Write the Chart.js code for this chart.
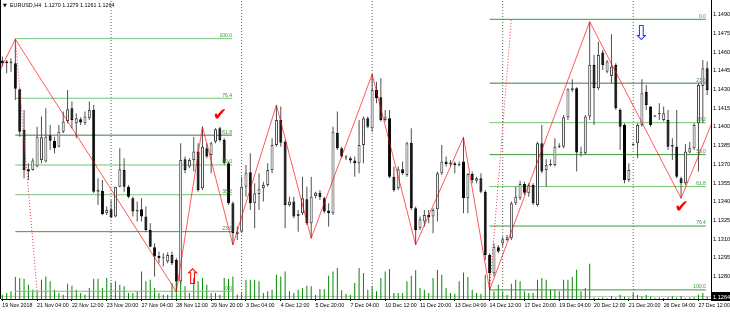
<!DOCTYPE html>
<html>
<head>
<meta charset="utf-8">
<title>EURUSD,H4</title>
<script src="https://cdn.jsdelivr.net/npm/chart.js@4.4.1/dist/chart.umd.min.js"></script>
<style>
  html, body { margin: 0; padding: 0; background: #fff; }
  #wrap { width: 730px; height: 313px; }
</style>
</head>
<body>
<div id="wrap"><canvas id="chart" width="730" height="313"></canvas></div>
<script>
// EURUSD H4, one entry per bar, bar 0 = 19 Nov 20:00, last bar = 27 Dec 20:00
const opens = [
  1.14532,1.14524,1.14510,1.14510,1.14302,1.13976,1.13660,1.13655,1.13682,1.13735,
  1.13722,1.13933,1.13888,1.13842,1.13962,1.14048,1.14149,1.14029,1.14061,1.14029,
  1.14069,1.14136,1.13481,1.13487,1.13307,1.13340,1.13281,1.13521,1.13655,1.13521,
  1.13428,1.13321,1.13340,1.13281,1.13174,1.13035,1.12965,1.12947,1.12920,1.12973,
  1.12933,1.12760,1.13740,1.13682,1.13735,1.13802,1.13508,1.13829,1.13775,1.13882,
  1.13989,1.13896,1.13708,1.13388,1.13142,1.13160,1.13521,1.13636,1.13388,1.13462,
  1.13508,1.13535,1.13655,1.13855,1.14056,1.13882,1.13374,1.13401,1.13286,1.13307,
  1.13420,1.13227,1.13446,1.13473,1.13428,1.13329,1.13307,1.13954,1.13829,1.13762,
  1.13749,1.13730,1.13708,1.13855,1.14069,1.13989,1.14296,1.14238,1.14056,1.14069,
  1.13601,1.13508,1.13660,1.13615,1.13874,1.13348,1.13187,1.13241,1.13294,1.13281,
  1.13340,1.13628,1.13722,1.13703,1.13708,1.13695,1.13722,1.13428,1.13623,1.13569,
  1.13588,1.13481,1.12973,1.12826,1.13035,1.13067,1.13094,1.13107,1.13388,1.13428,
  1.13543,1.13468,1.13535,1.13374,1.13869,1.13655,1.13695,1.13695,1.13847,1.13842,
  1.14077,1.14296,1.14310,1.13789,1.13789,1.14083,1.14497,1.14310,1.14596,1.14443,
  1.14409,1.14497,1.14136,1.14016,1.13575,1.13855,1.13869,1.14016,1.14283,1.14163,
  1.14088,1.14104,1.14056,1.14056,1.13842,1.13842,1.13588,1.13548,1.13794,1.13829,
  1.14029,1.14329,1.14470
];
const highs = [
  1.14564,1.14537,1.14550,1.14703,1.14310,1.14136,1.13708,1.13749,1.14002,1.14083,
  1.14149,1.14016,1.13922,1.14016,1.14123,1.14296,1.14203,1.14109,1.14077,1.14123,
  1.14203,1.14176,1.13588,1.13575,1.13361,1.13414,1.13521,1.13829,1.13749,1.13535,
  1.13441,1.13401,1.13428,1.13361,1.13227,1.13067,1.13000,1.12987,1.12992,1.13000,
  1.12947,1.13869,1.13762,1.13749,1.13922,1.13869,1.14002,1.13869,1.13882,1.13989,
  1.14002,1.13909,1.13722,1.13401,1.13201,1.13601,1.13695,1.13789,1.13548,1.13628,
  1.13561,1.13708,1.13909,1.14176,1.14163,1.13896,1.13441,1.13441,1.13334,1.13601,
  1.13521,1.13601,1.13481,1.13495,1.13441,1.13388,1.14002,1.14123,1.13842,1.13775,
  1.13762,1.13762,1.14056,1.14083,1.14083,1.14422,1.14363,1.14390,1.14136,1.14136,
  1.13682,1.13682,1.13722,1.13882,1.13989,1.13361,1.13281,1.13334,1.13334,1.13348,
  1.13642,1.13855,1.13762,1.13735,1.13722,1.13722,1.13917,1.13628,1.13642,1.13601,
  1.13628,1.13495,1.12987,1.13067,1.13054,1.13120,1.13134,1.13401,1.13521,1.13569,
  1.13561,1.13548,1.13548,1.13882,1.14016,1.13740,1.13740,1.13909,1.13869,1.14096,
  1.14310,1.14382,1.14318,1.13842,1.14096,1.14844,1.14577,1.14684,1.14617,1.14537,
  1.14743,1.14510,1.14149,1.14029,1.13708,1.13869,1.14029,1.14382,1.14337,1.14168,
  1.14096,1.14189,1.14163,1.14136,1.13909,1.14136,1.13601,1.13863,1.13882,1.14029,
  1.14350,1.14537,1.14524
];
const lows = [
  1.14484,1.14430,1.14443,1.14216,1.13922,1.13588,1.13575,1.13650,1.13676,1.13708,
  1.13714,1.13815,1.13789,1.13837,1.13949,1.14029,1.13989,1.13909,1.14016,1.14016,
  1.14056,1.13468,1.13374,1.13294,1.13294,1.13267,1.13275,1.13516,1.13481,1.13428,
  1.13281,1.13241,1.13241,1.13160,1.13035,1.12800,1.12907,1.12880,1.12907,1.12893,
  1.12679,1.12746,1.13628,1.13668,1.13642,1.13481,1.13495,1.13749,1.13628,1.13869,
  1.13882,1.13695,1.13374,1.13054,1.13094,1.13152,1.13441,1.13334,1.13187,1.13334,
  1.13401,1.13521,1.13628,1.13842,1.13842,1.13187,1.13361,1.13267,1.13160,1.13294,
  1.13214,1.13107,1.13428,1.13414,1.13307,1.13201,1.13294,1.13815,1.13749,1.13735,
  1.13708,1.13601,1.13628,1.13708,1.13989,1.13962,1.14190,1.14043,1.14043,1.13588,
  1.13481,1.13495,1.13615,1.13601,1.13334,1.13054,1.13174,1.13201,1.13227,1.13147,
  1.13241,1.13615,1.13682,1.13682,1.13628,1.13682,1.13307,1.13307,1.13548,1.13548,
  1.13468,1.12933,1.12693,1.12800,1.12987,1.13040,1.13088,1.13094,1.13374,1.13414,
  1.13454,1.13441,1.13374,1.13361,1.13628,1.13521,1.13682,1.13682,1.13829,1.13829,
  1.14056,1.14283,1.13642,1.13762,1.13775,1.14056,1.14016,1.14296,1.14457,1.14430,
  1.14350,1.14136,1.13815,1.13548,1.13561,1.13850,1.13749,1.14002,1.14136,1.14002,
  1.14077,1.14056,1.14043,1.13815,1.13735,1.13588,1.13428,1.13535,1.13789,1.13815,
  1.13642,1.14029,1.14256
];
const closes = [
  1.14510,1.14510,1.14524,1.14307,1.13962,1.13655,1.13642,1.13730,1.13922,1.13917,
  1.13922,1.13890,1.13829,1.13962,1.14043,1.14141,1.14056,1.14069,1.14035,1.14083,
  1.14136,1.13481,1.13495,1.13302,1.13334,1.13275,1.13521,1.13660,1.13521,1.13441,
  1.13321,1.13334,1.13281,1.13174,1.13040,1.12960,1.12947,1.12955,1.12973,1.12907,
  1.12760,1.13735,1.13655,1.13735,1.13802,1.13495,1.13842,1.13762,1.13869,1.13981,
  1.13896,1.13708,1.13388,1.13147,1.13160,1.13521,1.13628,1.13388,1.13468,1.13500,
  1.13535,1.13655,1.13855,1.14056,1.13874,1.13374,1.13401,1.13281,1.13302,1.13428,
  1.13227,1.13441,1.13473,1.13436,1.13321,1.13307,1.13962,1.13829,1.13762,1.13754,
  1.13730,1.13708,1.13855,1.14069,1.14002,1.14296,1.14230,1.14056,1.14077,1.13601,
  1.13495,1.13660,1.13628,1.13869,1.13348,1.13174,1.13259,1.13294,1.13275,1.13334,
  1.13628,1.13722,1.13703,1.13714,1.13695,1.13703,1.13428,1.13623,1.13575,1.13588,
  1.13481,1.12973,1.12826,1.13040,1.13000,1.13099,1.13115,1.13388,1.13441,1.13543,
  1.13473,1.13535,1.13388,1.13869,1.13642,1.13695,1.13703,1.13842,1.13842,1.14077,
  1.14302,1.14310,1.13794,1.13794,1.14083,1.14497,1.14310,1.14577,1.14497,1.14524,
  1.14484,1.14149,1.14002,1.13575,1.13655,1.13861,1.14016,1.14270,1.14176,1.14016,
  1.14083,1.14109,1.14109,1.13842,1.13855,1.13601,1.13548,1.13802,1.13829,1.14016,
  1.14337,1.14470,1.14296
];
const volumes = [
  1160,1600,2050,5870,5610,5430,3830,2490,2050,5160,
  6050,4720,2490,1600,1160,4100,3560,2490,1600,1160,
  2940,5430,5430,2940,5610,4270,4720,3830,3380,1600,
  1600,2050,7390,4720,5160,2940,1600,1160,1160,4270,
  4720,5610,3380,1600,5610,4720,5610,3830,1600,1600,
  1160,5610,5340,6050,1160,1600,5160,5160,5160,4720,
  1600,2050,2490,6500,6050,7390,2050,1600,2490,2940,
  3560,3380,1160,2670,2670,6230,7390,8280,2310,1420,
  1160,4270,8280,6940,2490,3380,2050,5610,7390,8010,
  1600,1600,1600,4720,6230,7660,2940,2490,1600,5610,
  7840,6500,2940,1600,1420,4720,7120,5870,2490,1600,
  1420,6500,3200,2050,3830,2050,1160,4100,5160,4720,
  2050,1600,1600,5160,5610,5160,2490,2490,2050,5160,
  5160,5870,7840,2050,2940,9430,400,300,500,300,
  800,400,1160,600,400,1600,1100,710,1100,700,
  300,400,300,500,710,400,800,300,400,500,
  1160,1600,600
];

// time axis: a label every 8 bars
const xTickBars = [0, 8, 16, 24, 32, 40, 48, 56, 64, 72, 80, 88, 96, 104, 112, 120, 128, 136, 144, 152, 160];
const xTickLabels = ['19 Nov 2018', '21 Nov 04:00', '22 Nov 12:00', '23 Nov 20:00', '27 Nov 04:00', '28 Nov 12:00',
  '29 Nov 20:00', '3 Dec 04:00', '4 Dec 12:00', '5 Dec 20:00', '7 Dec 04:00', '10 Dec 12:00', '11 Dec 20:00',
  '13 Dec 04:00', '14 Dec 12:00', '17 Dec 20:00', '19 Dec 04:00', '20 Dec 12:00', '21 Dec 20:00',
  '26 Dec 04:00', '27 Dec 12:00'];
const yTicks = [1.1280, 1.1295, 1.1310, 1.1325, 1.1340, 1.1355, 1.1370, 1.1385, 1.1400, 1.1415,
  1.1430, 1.1445, 1.1460, 1.1475, 1.1490];

// visible window
const xMin = -0.3, xMax = 162.88;
const yMin = 1.12620, yMax = 1.15018;
const volMax = 80000;

// zigzag swing points (ends run off the visible window)
const zzBars = [-3, 3, 40, 46, 53, 63, 71, 85, 95, 106, 112, 135, 156, 170];
const zzPrices = [1.14285, 1.14703, 1.12679, 1.14002, 1.13054, 1.14176, 1.13107, 1.14422, 1.13054,
  1.13917, 1.12693, 1.14844, 1.13428, 1.14621];

// weekly period separators (Monday 00:00)
const sepBars = [25, 55, 85, 115, 145];

// fibonacci retracements
const fibLabels = ['100.0', '76.4', '61.8', '50.0', '38.2', '23.6', '0.0'];
const fibLeftPrices = [1.14708, 1.14230, 1.13934, 1.13695, 1.13456, 1.13160, 1.12682];
const fibLeftColors = ['#74c474', '#74c474', '#3f7a3f', '#74c474', '#74c474', '#3a9a3a', '#74c474'];
const fibLeftSpan = [3, 52.8];
const fibLeftTrendBars = [3, 8];
const fibLeftTrendPrices = [1.14708, 1.12682];
const fibRightPrices = [1.12693, 1.13205, 1.13522, 1.13778, 1.14034, 1.14351, 1.14863];
const fibRightColors = ['#3a9a3a', '#3a9a3a', '#74c474', '#3a9a3a', '#74c474', '#3f7a3f', '#3a9a3a'];
const fibRightSpan = [112, 161.7];
const fibRightTrendBars = [112, 117];
const fibRightTrendPrices = [1.12693, 1.14863];

// hand drawn marks
const markGlyphs = ['\u2714', '\u2714', '\u21E7', '\u21E9'];
const markBars = [50, 156.1, 43.8, 146.9];
const markPrices = [1.14090, 1.13354, 1.12784, 1.14737];
const markColors = ['#ff0000', '#ff0000', '#ff0000', '#1f3cff'];
const markSizes = [17, 17, 21, 21];

const bidPrice = 1.1264;
const titleText = 'EURUSD,H4  1.1270 1.1279 1.1261 1.1264';

const FONT = '"Liberation Sans", Arial, sans-serif';
Chart.defaults.font.family = FONT;
Chart.defaults.color = '#000';

const idx = opens.map((_, i) => i);
const isUp = (i) => closes[i] >= opens[i];

const lineDs = (pts, color, extra) => Object.assign({
  type: 'line', data: pts, borderColor: color, borderWidth: 1,
  pointRadius: 0, fill: false, tension: 0
}, extra);

const datasets = [];

datasets.push(lineDs(zzBars.map((b, k) => ({ x: b, y: zzPrices[k] })), 'rgba(255,0,0,0.65)', { order: 0 }));
datasets.push(lineDs(fibLeftTrendBars.map((b, k) => ({ x: b, y: fibLeftTrendPrices[k] })), '#ff3030', { order: 0, borderDash: [1, 2] }));
datasets.push(lineDs(fibRightTrendBars.map((b, k) => ({ x: b, y: fibRightTrendPrices[k] })), '#ff3030', { order: 0, borderDash: [1, 2] }));

// candle bodies
datasets.push({
  type: 'bar', order: 1, grouped: false,
  data: idx.map(i => ({ x: i, y: [opens[i], closes[i]] })),
  backgroundColor: idx.map(i => isUp(i) ? '#ffffff' : '#000000'),
  borderColor: idx.map(i => isUp(i) ? '#404040' : '#000000'),
  borderWidth: 1, borderSkipped: false, minBarLength: 1, inflateAmount: 0,
  categoryPercentage: 1, barPercentage: 1, maxBarThickness: 3
});
// wicks
datasets.push({
  type: 'bar', order: 2, grouped: false,
  data: idx.map(i => ({ x: i, y: [lows[i], highs[i]] })),
  backgroundColor: '#505050', borderWidth: 0, inflateAmount: 0,
  categoryPercentage: 1, barPercentage: 1, maxBarThickness: 1
});

fibLabels.forEach((_, k) => {
  datasets.push(lineDs([{ x: fibLeftSpan[0], y: fibLeftPrices[k] }, { x: fibLeftSpan[1], y: fibLeftPrices[k] }], fibLeftColors[k], { order: 3 }));
  datasets.push(lineDs([{ x: fibRightSpan[0], y: fibRightPrices[k] }, { x: fibRightSpan[1], y: fibRightPrices[k] }], fibRightColors[k], { order: 3 }));
});

sepBars.forEach(b => {
  datasets.push(lineDs([{ x: b, y: yMin }, { x: b, y: yMax }], '#606060', { order: 4, borderDash: [1, 2] }));
});

// tick volumes
datasets.push({
  type: 'bar', order: 5, grouped: false, yAxisID: 'yv',
  data: idx.map(i => ({ x: i, y: volumes[i] })),
  backgroundColor: '#008a00', borderWidth: 0, inflateAmount: 0,
  categoryPercentage: 1, barPercentage: 1, maxBarThickness: 1
});

// bid line
datasets.push(lineDs([{ x: xMin, y: bidPrice }, { x: xMax, y: bidPrice }], '#c8c8c8', { order: 6 }));

const overlay = {
  id: 'overlay',
  beforeDraw(chart) {
    const { ctx, width, height } = chart;
    ctx.save();
    ctx.fillStyle = '#fff';
    ctx.fillRect(0, 0, width, height);
    ctx.restore();
  },
  afterDatasetsDraw(chart) {
    const { ctx, scales: { x, y } } = chart;
    ctx.save();
    ctx.font = '5px ' + FONT;
    ctx.textAlign = 'right';
    ctx.textBaseline = 'bottom';
    fibLabels.forEach((t, k) => {
      ctx.fillStyle = '#2f9a2f';
      ctx.fillText(t, x.getPixelForValue(fibLeftSpan[1]), y.getPixelForValue(fibLeftPrices[k]) - 0.5);
      ctx.fillText(t, x.getPixelForValue(fibRightSpan[1]), y.getPixelForValue(fibRightPrices[k]) - 0.5);
    });
    ctx.textAlign = 'center';
    ctx.textBaseline = 'middle';
    markGlyphs.forEach((g, k) => {
      ctx.font = markSizes[k] + 'px "DejaVu Sans"';
      ctx.fillStyle = markColors[k];
      ctx.fillText(g, x.getPixelForValue(markBars[k]), y.getPixelForValue(markPrices[k]));
    });
    ctx.restore();
  },
  afterDraw(chart) {
    const { ctx, chartArea: a, scales: { y } } = chart;
    ctx.save();
    // left frame line
    ctx.strokeStyle = '#000';
    ctx.lineWidth = 1;
    ctx.beginPath();
    ctx.moveTo(0.5, 0);
    ctx.lineTo(0.5, a.bottom);
    ctx.stroke();
    // title
    ctx.fillStyle = '#000';
    ctx.textBaseline = 'middle';
    ctx.textAlign = 'left';
    ctx.font = '5px "DejaVu Sans"';
    ctx.fillText('\u25BC', 3, 6);
    ctx.font = '5.4px ' + FONT;
    ctx.fillText(titleText, 10, 6);
    // bid price box
    const py = y.getPixelForValue(bidPrice);
    ctx.fillStyle = '#000';
    ctx.fillRect(a.right, py - 4.5, 19, 9);
    ctx.fillStyle = '#fff';
    ctx.font = '5.6px ' + FONT;
    ctx.fillText(bidPrice.toFixed(4), a.right + 2, py + 0.5);
    ctx.restore();
  }
};

new Chart(document.getElementById('chart'), {
  type: 'bar',
  data: { datasets },
  options: {
    responsive: false,
    animation: false,
    devicePixelRatio: 1,
    layout: { padding: { left: 1, right: 0, top: 0, bottom: 0 } },
    plugins: { legend: { display: false }, tooltip: { enabled: false } },
    scales: {
      x: {
        type: 'linear', min: xMin, max: xMax, offset: false,
        grid: { drawOnChartArea: false, drawTicks: true, tickLength: 2, color: '#000', offset: false },
        border: { display: true, color: '#000' },
        ticks: {
          autoSkip: false, maxRotation: 0, minRotation: 0, align: 'start', padding: 1,
          font: { size: 5.3 }, callback: (v, i) => xTickLabels[i]
        },
        afterBuildTicks: (s) => { s.ticks = xTickBars.map(v => ({ value: v })); },
        afterFit: (s) => { s.height = 14; s.paddingLeft = 0; s.paddingRight = 0; }
      },
      y: {
        type: 'linear', position: 'right', min: yMin, max: yMax,
        grid: { drawOnChartArea: false, drawTicks: true, tickLength: 1, color: '#000' },
        border: { display: true, color: '#000' },
        ticks: { autoSkip: false, padding: 1, font: { size: 5.6 }, callback: (v) => v.toFixed(4) },
        afterBuildTicks: (s) => { s.ticks = yTicks.map(v => ({ value: v })); },
        afterFit: (s) => { s.width = 19; s.paddingTop = 0; s.paddingBottom = 0; }
      },
      yv: { type: 'linear', display: false, min: 0, max: volMax }
    }
  },
  plugins: [overlay]
});
</script>
</body>
</html>
